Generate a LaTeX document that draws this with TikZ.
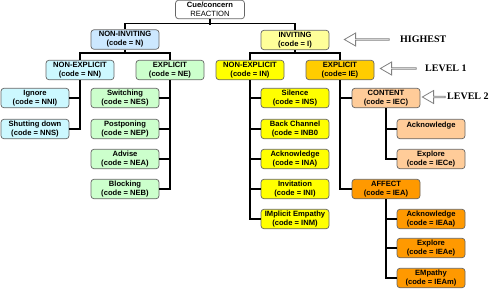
\documentclass[tikz,border=0pt]{standalone}
\usepackage{fontspec}
\setsansfont{Liberation Sans}
\newfontfamily\lvlfont{Liberation Serif}
\usetikzlibrary{shapes.arrows}
\definecolor{cBlue}{HTML}{CCE8FF}
\definecolor{cCyan}{HTML}{CCF8FF}
\definecolor{cGreen}{HTML}{CCFFCC}
\definecolor{cLtYel}{HTML}{FFFF99}
\definecolor{cYel}{HTML}{FFFF00}
\definecolor{cGold}{HTML}{FFCC00}
\definecolor{cPeach}{HTML}{FFCC99}
\definecolor{cOrange}{HTML}{FF9900}
\tikzset{
  cbox/.style={draw=black!60, line width=0.7pt, rounded corners=3pt, minimum width=68pt,
               minimum height=19.5pt, inner sep=1pt, align=center,
               font=\sffamily\bfseries\fontsize{7.6}{9}\selectfont},
  link/.style={line width=1.4pt, draw=black},
  lvlarrow/.style={single arrow, draw=black!50, fill=white, line width=0.8pt,
                   shape border rotate=180, minimum width=13pt, inner sep=0pt,
                   single arrow head extend=3pt, single arrow tip angle=60},
  lvl/.style={anchor=west, inner sep=0pt, font=\lvlfont\bfseries\fontsize{10}{12}\selectfont},
}
\begin{document}
\begin{tikzpicture}[x=1pt, y=-1pt]
\useasboundingbox (0,0) rectangle (500,289);

% --- top ---
\node[cbox, fill=white, font=\sffamily\fontsize{7.6}{9}\selectfont, minimum width=69pt,
      minimum height=18.5pt] (root) at (210,9.5) {\textbf{Cue/concern}\\REACTION};
\node[cbox, fill=cBlue] (N) at (125,39.5) {NON-INVITING\\(code = N)};
\node[cbox, fill=cLtYel] (I) at (295,40) {INVITING\\(code = I)};
\draw[link] (root.south) -- ++(0,6);
\draw[link] (N.north) -- ++(0,-6) -| (I.north);

% --- level 1 ---
\node[cbox, fill=cCyan] (NN) at (80,70) {NON-EXPLICIT\\(code = NN)};
\node[cbox, fill=cGreen] (NE) at (170,70) {EXPLICIT\\(code = NE)};
\node[cbox, fill=cYel] (IN) at (250,70) {NON-EXPLICIT\\(code = IN)};
\node[cbox, fill=cGold] (IE) at (340,70) {EXPLICIT\\(code= IE)};
\draw[link] (N.south) -- ++(0,4.5);
\draw[link] (NN.north) -- ++(0,-7) -| (NE.north);
\draw[link] (I.south) -- ++(0,3.5);
\draw[link] (IN.north) -- ++(0,-7) -| (IE.north);

% --- non-inviting leaves ---
\foreach \nm/\y/\txt/\cd in {NNI/98/Ignore/(code = NNI), NNS/129/Shutting down/(code = NNS)} {
  \node[cbox, fill=cCyan] (\nm) at (35,\y) {\txt\\\cd};
  \draw[link] (\nm.east) -- (\nm.east -| NN.south);
}
\draw[link] (NN.south) |- (NNS.east);
\foreach \nm/\y/\txt/\cd in {NES/98/Switching/(code = NES), NEP/129/Postponing/(code = NEP),
                             NEA/159/Advise/(code = NEA), NEB/189/Blocking/(code = NEB)} {
  \node[cbox, fill=cGreen] (\nm) at (125,\y) {\txt\\\cd};
  \draw[link] (\nm.east) -- (\nm.east -| NE.south);
}
\draw[link] (NE.south) |- (NEB.east);

% --- inviting leaves ---
\foreach \nm/\y/\txt/\cd in {INS/98/Silence/(code = INS), INB/129/Back Channel/(code = INB0,
                             INA/159/Acknowledge/(code = INA), INI/189/Invitation/(code = INI),
                             INM/219/IMplicit\ Empathy/(code = INM)} {
  \node[cbox, fill=cYel] (\nm) at (295,\y) {\txt\\\cd};
  \draw[link] (\nm.west) -- (\nm.west -| IN.south);
}
\draw[link] (IN.south) |- (INM.west);

\node[cbox, fill=cPeach] (IEC) at (386,98) {CONTENT\\(code = IEC)};
\node[cbox, fill=cOrange] (IEA) at (386,189) {AFFECT\\(code = IEA)};
\draw[link] (IEC.west) -- (IEC.west -| IE.south);
\draw[link] (IE.south) |- (IEA.west);

\node[cbox, fill=cPeach] (IECa) at (431,129) {Acknowledge\\\mbox{}};
\node[cbox, fill=cPeach] (IECe) at (431,159) {Explore\\(code = IECe)};
\draw[link] (IECa.west) -- (IECa.west -| IEC.south);
\draw[link] (IEC.south) |- (IECe.west);

\foreach \nm/\y/\txt/\cd in {IEAa/219/Acknowledge/(code = IEAa), IEAe/248/Explore/(code = IEAe),
                             IEAm/278/EMpathy/(code = IEAm)} {
  \node[cbox, fill=cOrange] (\nm) at (431,\y) {\txt\\\cd};
  \draw[link] (\nm.west) -- (\nm.west -| IEA.south);
}
\draw[link] (IEA.south) |- (IEAm.west);

% --- level marks ---
\node[lvlarrow, minimum height=45pt] (aH) at (367.5,39.5) {};
\node[lvl] (tH) at (400,39.5) {HIGHEST};
\node[lvlarrow, minimum height=36pt] (a1) at (399,68.5) {};
\node[lvl] (t1) at (425,68) {LEVEL 1};
\node[lvlarrow, minimum height=23pt] (a2) at (434.5,97) {};
\node[lvl] (t2) at (447,96) {LEVEL 2};
\end{tikzpicture}
\end{document}
